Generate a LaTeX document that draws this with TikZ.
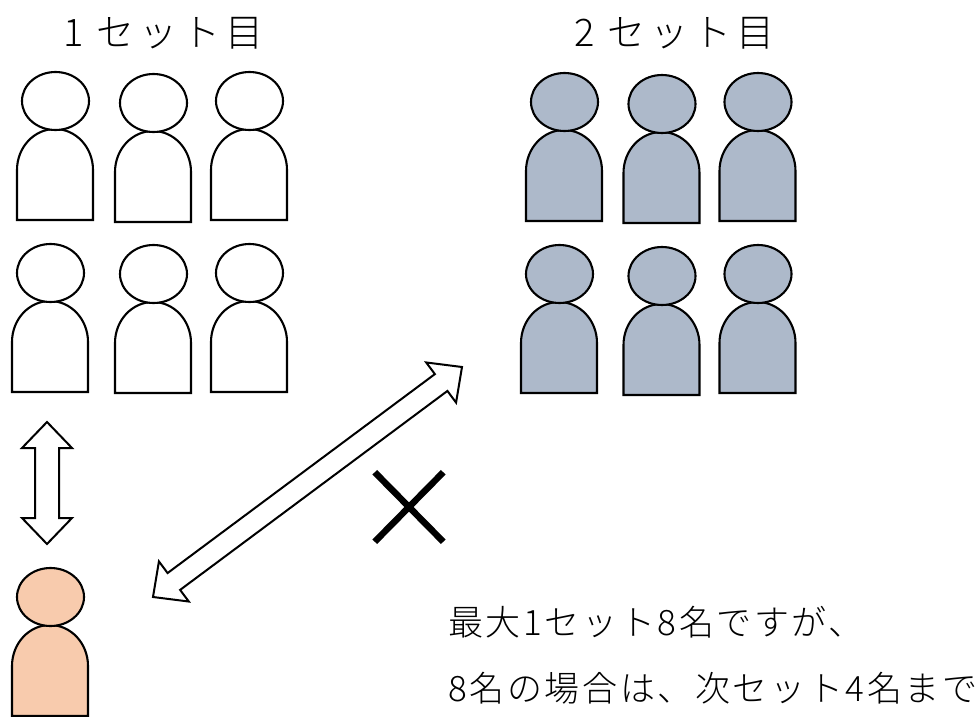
\documentclass[tikz,border=0pt]{standalone}
\usepackage{fontspec}
\newfontfamily\jpfont[LetterSpace=7.5]{Noto Sans CJK JP Light}
\newfontfamily\jptitlefont[LetterSpace=13]{Noto Sans CJK JP Light}
\usetikzlibrary{calc, shapes.misc, shapes.geometric}
\definecolor{setgray}{HTML}{ADB9CA}
\definecolor{peach}{HTML}{F8CBAD}
\tikzstyle{head}=[%
      ellipse, draw=black, line width=2.1pt, minimum width=67pt, minimum height=58pt, inner sep=0pt
]
\tikzstyle{label}=[%
      inner sep=0pt, anchor=base west, font=\jpfont\fontsize{35}{35}\selectfont
]
\tikzstyle{title}=[%
      inner sep=0pt, anchor=base west, font=\jptitlefont\fontsize{38}{38}\selectfont
]
\tikzset{
  blockarrow/.style={
      draw=black, fill=white, line width=2pt, line join=miter,
      to path={
        -- ($(\tikztostart)!26pt!(\tikztotarget)!25pt!90:(\tikztotarget)$)
        -- ($(\tikztostart)!26pt!(\tikztotarget)!#1!90:(\tikztotarget)$)
        -- ($(\tikztotarget)!26pt!(\tikztostart)!-#1!90:(\tikztostart)$)
        -- ($(\tikztotarget)!26pt!(\tikztostart)!-25pt!90:(\tikztostart)$)
        -- (\tikztotarget)
        -- ($(\tikztotarget)!26pt!(\tikztostart)!25pt!90:(\tikztostart)$)
        -- ($(\tikztotarget)!26pt!(\tikztostart)!#1!90:(\tikztostart)$)
        -- ($(\tikztostart)!26pt!(\tikztotarget)!-#1!90:(\tikztotarget)$)
        -- ($(\tikztostart)!26pt!(\tikztotarget)!-25pt!90:(\tikztotarget)$)
        -- cycle
      }
  },
  pics/person/.style={code={
    \draw[line width=2.1pt, fill=#1] (-38pt,0pt) -- (-38pt,50pt)
        arc[start angle=180, end angle=0, x radius=38pt, y radius=41pt] -- (38pt,0pt) -- cycle;
    \node[head, fill=#1] (-head) at (0.5pt,119pt) {};
  }}
}
\begin{document}
\begin{tikzpicture}[x=1pt, y=-1pt]
    \useasboundingbox (0,0) rectangle (978,717);

    \node[title] (title1) at (63,47) {1 セット目};
    \node[title] (title2) at (574,47) {2 セット目};

    \pic (a1) at (55,220) {person=white};
    \pic (a2) at (153,222) {person=white};
    \pic (a3) at (249,220) {person=white};
    \pic (a4) at (50,392) {person=white};
    \pic (a5) at (153,393) {person=white};
    \pic (a6) at (249,392) {person=white};

    \pic (b1) at (564,221) {person=setgray};
    \pic (b2) at (661.5,223) {person=setgray};
    \pic (b3) at (757.5,221) {person=setgray};
    \pic (b4) at (559,393) {person=setgray};
    \pic (b5) at (661.5,395) {person=setgray};
    \pic (b6) at (757.5,393) {person=setgray};

    \pic (you) at (50,716) {person=peach};

    \coordinate (neartop) at (47,422);
    \coordinate (nearbottom) at (47,544);
    \coordinate (fartop) at (462,367);
    \coordinate (farbottom) at (153,597);

    \draw[blockarrow=12pt] (neartop) to (nearbottom);
    \draw[blockarrow=10.5pt] (fartop) to (farbottom);

    \node[cross out, draw=black, line width=6.5pt, minimum width=62pt, minimum height=63pt, inner sep=0pt] (ng) at (409,507) {};

    \node[label] (note1) at (448,635) {最大1セット8名ですが、};
    \node[label] (note2) at (448,701) {8名の場合は、次セット4名まで};
\end{tikzpicture}
\end{document}
